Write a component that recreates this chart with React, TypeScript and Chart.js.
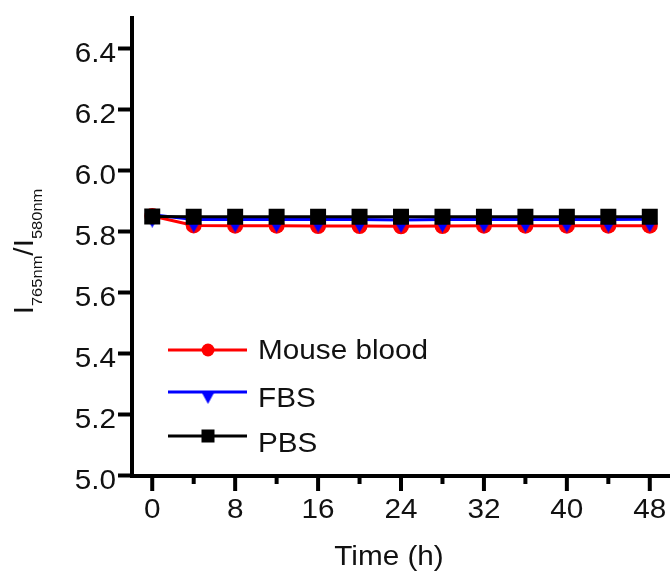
import React, { useEffect, useRef } from "react";
import { Chart, registerables } from "chart.js";

Chart.register(...registerables);

// ---- data ----
const TIME_H = [0, 4, 8, 12, 16, 20, 24, 28, 32, 36, 40, 44, 48];
const MOUSE_BLOOD = [5.851, 5.82, 5.819, 5.819, 5.818, 5.818, 5.817, 5.818, 5.819, 5.819, 5.819, 5.819, 5.819];
const FBS = [5.855, 5.839, 5.839, 5.839, 5.839, 5.839, 5.838, 5.839, 5.839, 5.839, 5.839, 5.839, 5.84];
const PBS = [5.849, 5.848, 5.848, 5.848, 5.848, 5.848, 5.848, 5.848, 5.848, 5.848, 5.848, 5.848, 5.848];
const SERIES_LABELS = ["Mouse blood", "FBS", "PBS"];
const X_TICKS = [0, 4, 8, 12, 16, 20, 24, 28, 32, 36, 40, 44, 48];
const X_LABEL_STEP = 8;
const Y_TICKS = [5.0, 5.2, 5.4, 5.6, 5.8, 6.0, 6.2, 6.4];
const X_TITLE = "Time (h)";
const Y_TITLE_PARTS = [
  { t: "I", sub: false },
  { t: "765nm", sub: true },
  { t: "/", sub: false },
  { t: "I", sub: false },
  { t: "580nm", sub: true },
];

const FONT = '"Liberation Sans", Arial, Helvetica, sans-serif';
const SX = 1.1;
const TEXT_COLOR = "#111";

function drawText(ctx: CanvasRenderingContext2D, text: string, x: number, y: number, size: number, align: string) {
  ctx.save();
  ctx.font = `${size}px ${FONT}`;
  ctx.textBaseline = "alphabetic";
  ctx.textAlign = "left";
  ctx.fillStyle = TEXT_COLOR;
  const w = ctx.measureText(text).width * SX;
  let left = x;
  if (align === "center") left = x - w / 2;
  else if (align === "right") left = x - w;
  ctx.translate(left, y);
  ctx.scale(SX, 1);
  ctx.fillText(text, 0, 0);
  ctx.restore();
}

function makeDownTriangle(w: number, h: number, color: string) {
  const c = document.createElement("canvas");
  c.width = w;
  c.height = h * 2;
  const g = c.getContext("2d")!;
  g.fillStyle = color;
  g.beginPath();
  g.moveTo(0, h);
  g.lineTo(w, h);
  g.lineTo(w / 2, 2 * h);
  g.closePath();
  g.fill();
  return c;
}

const axesPlugin = {
  id: "prismAxes",
  afterDraw(chart: any) {
    const ctx: CanvasRenderingContext2D = chart.ctx;
    const xs = chart.scales.x;
    const ys = chart.scales.y;
    const area = chart.chartArea;
    ctx.save();
    ctx.strokeStyle = "#000";
    ctx.lineCap = "butt";
    // x ticks
    X_TICKS.forEach((v) => {
      const px = xs.getPixelForValue(v);
      const major = v % X_LABEL_STEP === 0;
      ctx.lineWidth = 4;
      ctx.beginPath();
      ctx.moveTo(px, area.bottom);
      ctx.lineTo(px, major ? 491 : 484);
      ctx.stroke();
      if (major) drawText(ctx, String(v), px, 518, 27, "center");
    });
    // y ticks
    Y_TICKS.forEach((v) => {
      const py = ys.getPixelForValue(v);
      ctx.lineWidth = 4;
      ctx.beginPath();
      ctx.moveTo(118, py);
      ctx.lineTo(area.left, py);
      ctx.stroke();
      drawText(ctx, v.toFixed(1), 116, py + 13.5, 27, "right");
    });
    // x title
    drawText(ctx, X_TITLE, 389, 565, 27, "center");
    // y title (rotated, with subscripts)
    ctx.save();
    ctx.translate(33, 251.5);
    ctx.rotate(-Math.PI / 2);
    let total = 0;
    const widths = Y_TITLE_PARTS.map((p) => {
      ctx.font = `${p.sub ? 15 : 27}px ${FONT}`;
      const w = ctx.measureText(p.t).width * SX;
      total += w;
      return w;
    });
    let cx = -total / 2;
    Y_TITLE_PARTS.forEach((p, i) => {
      ctx.save();
      ctx.font = `${p.sub ? 15 : 27}px ${FONT}`;
      ctx.fillStyle = TEXT_COLOR;
      ctx.textBaseline = "alphabetic";
      ctx.textAlign = "left";
      ctx.translate(cx, p.sub ? 9 : 0);
      ctx.scale(SX, 1);
      ctx.fillText(p.t, 0, 0);
      ctx.restore();
      cx += widths[i];
    });
    ctx.restore();
    // legend
    const legendY = [350, 392, 436];
    const textY = [359, 407, 452];
    chart.data.datasets.forEach((ds: any, i: number) => {
      const ly = legendY[i];
      ctx.strokeStyle = ds.borderColor;
      ctx.lineWidth = 3;
      ctx.beginPath();
      ctx.moveTo(168, ly);
      ctx.lineTo(247, ly);
      ctx.stroke();
      ctx.fillStyle = ds.borderColor;
      if (i === 0) {
        ctx.beginPath();
        ctx.arc(208, ly, 6.5, 0, Math.PI * 2);
        ctx.fill();
      } else if (i === 1) {
        const img = makeDownTriangle(13, 12, ds.borderColor);
        ctx.drawImage(img, 208 - 6.5, ly - 12);
      } else {
        ctx.fillRect(208 - 6.5, ly - 6.5, 13, 13);
      }
      drawText(ctx, SERIES_LABELS[i], 258, textY[i], 27, "left");
    });
    ctx.restore();
  },
};

export default function App() {
  const canvasRef = useRef<HTMLCanvasElement | null>(null);

  useEffect(() => {
    if (!canvasRef.current) return;
    const tri = makeDownTriangle(15, 13, "#0000ff");
    const toXY = (arr: number[]) => TIME_H.map((t, i) => ({ x: t, y: arr[i] }));
    const chart = new Chart(canvasRef.current, {
      type: "line",
      data: {
        datasets: [
          {
            label: SERIES_LABELS[0],
            data: toXY(MOUSE_BLOOD),
            borderColor: "#ff0000",
            backgroundColor: "#ff0000",
            borderWidth: 3,
            pointStyle: "circle",
            pointRadius: 8,
            pointBorderWidth: 0,
            order: 3,
          },
          {
            label: SERIES_LABELS[1],
            data: toXY(FBS),
            borderColor: "#0000ff",
            backgroundColor: "#0000ff",
            borderWidth: 3,
            pointStyle: tri as any,
            pointRadius: 8,
            pointBorderWidth: 0,
            order: 2,
          },
          {
            label: SERIES_LABELS[2],
            data: toXY(PBS),
            borderColor: "#000000",
            backgroundColor: "#000000",
            borderWidth: 3,
            pointStyle: "rect",
            pointRadius: 11.3,
            pointBorderWidth: 0,
            order: 1,
          },
        ],
      },
      options: {
        animation: false,
        responsive: true,
        maintainAspectRatio: false,
        layout: { autoPadding: false, padding: { top: 18, left: 0, right: 0, bottom: 0 } },
        plugins: { legend: { display: false }, tooltip: { enabled: false } },
        elements: { line: { tension: 0 } },
        scales: {
          x: {
            type: "linear",
            min: -2,
            max: 49.95,
            grid: { display: false },
            border: { display: true, width: 4, color: "#000" },
            ticks: { display: false },
            afterBuildTicks: (s: any) => {
              s.ticks = X_TICKS.map((v) => ({ value: v }));
            },
            afterFit: (s: any) => {
              s.height = 98.5;
            },
          },
          y: {
            type: "linear",
            min: 5.0,
            max: 6.5,
            grid: { display: false },
            border: { display: true, width: 4, color: "#000" },
            ticks: { display: false },
            afterBuildTicks: (s: any) => {
              s.ticks = Y_TICKS.map((v) => ({ value: v }));
            },
            afterFit: (s: any) => {
              s.width = 131.5;
            },
          },
        },
      },
      plugins: [axesPlugin],
    });
    return () => chart.destroy();
  }, []);

  return (
    <div style={{ position: "fixed", left: 0, top: 0, width: 670, height: 574, background: "#fff" }}>
      <canvas ref={canvasRef} />
    </div>
  );
}
